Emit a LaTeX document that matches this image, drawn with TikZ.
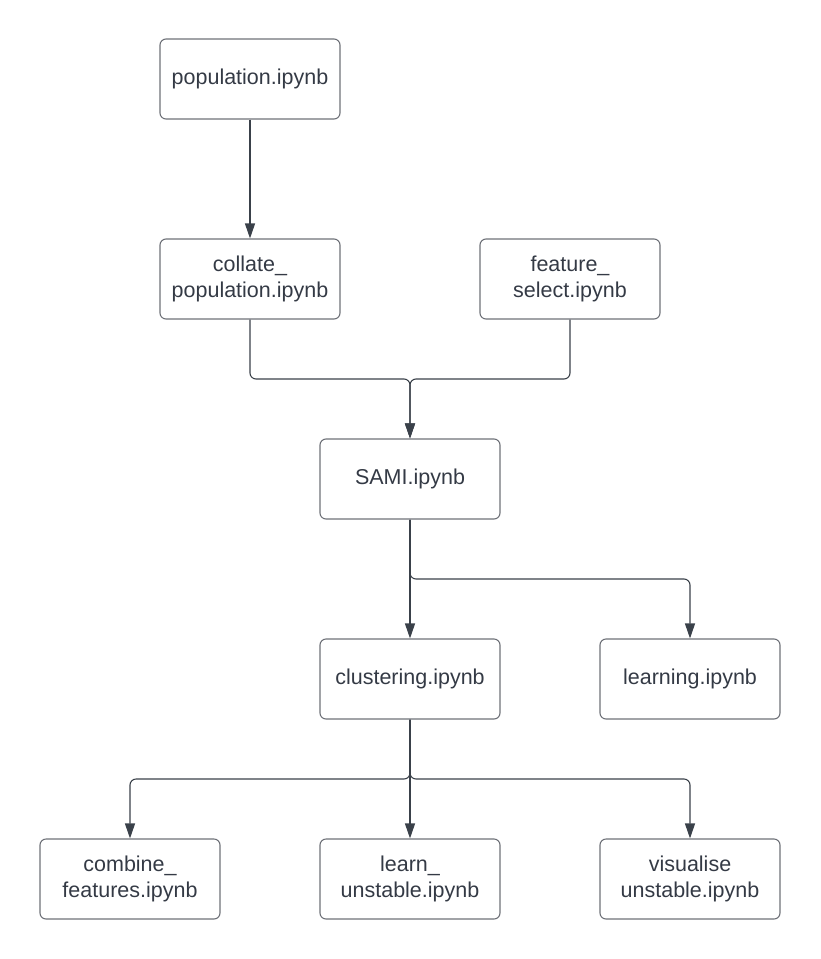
\documentclass[tikz,border=0pt]{standalone}
\usepackage{fontspec}
\setmainfont{Liberation Sans}
\usetikzlibrary{arrows.meta}
\definecolor{txt}{HTML}{343A45}
\definecolor{edge}{HTML}{3A414A}
\definecolor{border}{HTML}{6E7178}
\tikzset{
  nb/.style={draw=border, line width=1.1pt, rounded corners=6pt, minimum width=180pt, minimum height=80pt,
    inner sep=0pt, align=center, text=txt, font=\fontsize{21.5}{26.5}\selectfont},
  conn/.style={draw=edge, line width=1.1pt, rounded corners=6pt, -{Triangle[length=15pt,width=10pt]}},
}
\begin{document}
\begin{tikzpicture}[x=1pt,y=-1pt]
\useasboundingbox (0,0) rectangle (820,959);
\node[nb] (pop) at (250,79) {population.ipynb};
\node[nb] (col) at (250,279) {collate\_\\population.ipynb};
\node[nb] (fs) at (570,279) {feature\_\\select.ipynb};
\node[nb] (sami) at (410,479) {SAMI.ipynb};
\node[nb] (clu) at (410,679) {clustering.ipynb};
\node[nb] (lea) at (690,679) {learning.ipynb};
\node[nb] (comb) at (130,879) {combine\_\\features.ipynb};
\node[nb] (lu) at (410,879) {learn\_\\unstable.ipynb};
\node[nb] (vis) at (690,879) {visualise\\unstable.ipynb};
\coordinate (j1) at (410,379);
\coordinate (j2) at (410,579);
\coordinate (j3) at (410,779);
\draw[conn] (pop) -- (col);
\draw[conn] (col.south) |- (j1) -- (sami.north);
\draw[conn] (fs.south) |- (j1) -- (sami.north);
\draw[conn] (sami) -- (clu);
\draw[conn] (sami.south) |- (lea.north |- j2) -- (lea.north);
\draw[conn] (clu) -- (lu);
\draw[conn] (clu.south) -- (j3) -| (comb.north);
\draw[conn] (clu.south) -- (j3) -| (vis.north);
\end{tikzpicture}
\end{document}
